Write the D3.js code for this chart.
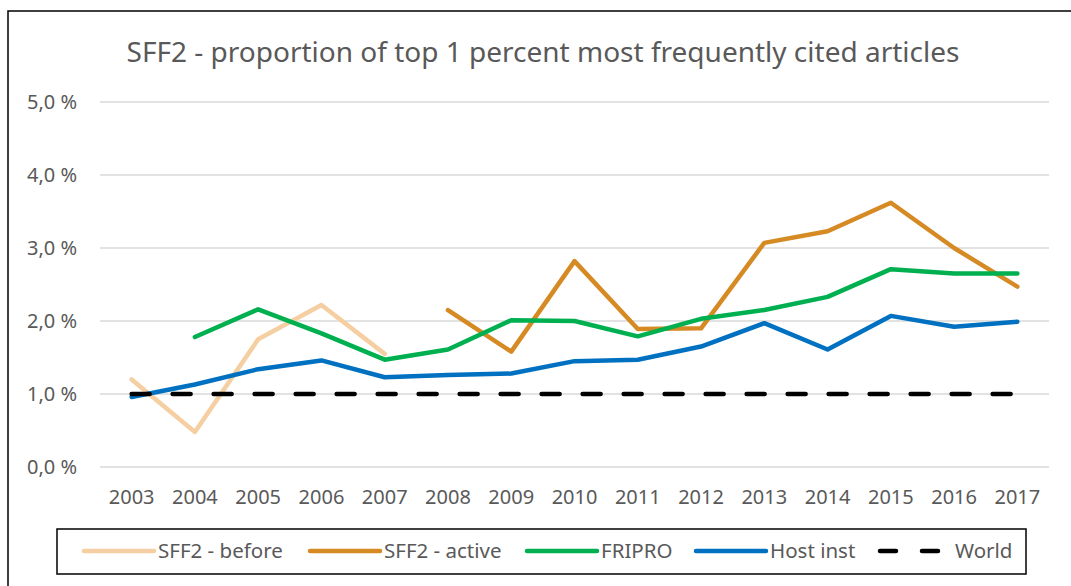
<!DOCTYPE html>
<html>
<head>
<meta charset="utf-8">
<script src="https://cdn.jsdelivr.net/npm/d3@7"></script>
<style>
  body { margin: 0; background: #fff; }
  svg { display: block; font-family: "Noto Sans", sans-serif; }
</style>
</head>
<body>
<svg id="chart" width="1071" height="586"></svg>
<script>
var years = ["2003","2004","2005","2006","2007","2008","2009","2010","2011","2012","2013","2014","2015","2016","2017"];
var sffBefore = [1.20, 0.48, 1.75, 2.22, 1.55, null, null, null, null, null, null, null, null, null, null];
var sffActive = [null, null, null, null, null, 2.15, 1.58, 2.82, 1.89, 1.90, 3.07, 3.23, 3.62, 3.00, 2.47];
var fripro    = [null, 1.78, 2.16, 1.83, 1.47, 1.61, 2.01, 2.00, 1.79, 2.03, 2.15, 2.33, 2.71, 2.65, 2.65];
var hostInst  = [0.96, 1.13, 1.34, 1.46, 1.23, 1.26, 1.28, 1.45, 1.47, 1.65, 1.97, 1.61, 2.07, 1.92, 1.99];
var world     = [1, 1, 1, 1, 1, 1, 1, 1, 1, 1, 1, 1, 1, 1, 1];
var yTicks = [0, 1, 2, 3, 4, 5];

var series = [
  {name: "SFF2 - before", values: sffBefore, color: "#F5CFA2", dash: null},
  {name: "SFF2 - active", values: sffActive, color: "#D68A24", dash: null},
  {name: "FRIPRO", values: fripro, color: "#00B050", dash: null},
  {name: "Host inst", values: hostInst, color: "#0070C0", dash: null},
  {name: "World", values: world, color: "#000000", dash: "18,23"}
];

var svg = d3.select("#chart");
var x = d3.scaleBand().domain(years).range([100, 1049]);
var y = d3.scaleLinear().domain([0, 5]).range([467, 102]);

// outer chart frame (runs off the right and bottom edge)
svg.append("rect")
  .attr("x", 8).attr("y", 11)
  .attr("width", 1120).attr("height", 640)
  .attr("fill", "none").attr("stroke", "#000").attr("stroke-width", 1.5);

svg.append("text")
  .attr("x", 543).attr("y", 62)
  .attr("text-anchor", "middle")
  .attr("font-size", 28)
  .attr("fill", "#595959")
  .text("SFF2 - proportion of top 1 percent most frequently cited articles");

// gridlines
svg.append("g").selectAll("line").data(yTicks).join("line")
  .attr("x1", 100).attr("x2", 1049)
  .attr("y1", d => y(d)).attr("y2", d => y(d))
  .attr("stroke", "#D9D9D9").attr("stroke-width", 1.5);

var yAxis = svg.append("g")
  .attr("transform", "translate(77,0)")
  .call(d3.axisLeft(y).tickValues(yTicks).tickSize(0).tickPadding(0)
    .tickFormat(d => d3.format(".1f")(d).replace(".", ",") + " %"));
yAxis.select(".domain").remove();
yAxis.selectAll("text").attr("font-size", 20).attr("fill", "#595959")
  .attr("font-family", "Noto Sans, sans-serif");

var xAxis = svg.append("g")
  .attr("transform", "translate(0,490)")
  .call(d3.axisBottom(x).tickSize(0).tickPadding(0));
xAxis.select(".domain").remove();
xAxis.selectAll("text").attr("font-size", 20).attr("fill", "#595959")
  .attr("font-family", "Noto Sans, sans-serif");

var line = d3.line()
  .defined(d => d.v != null)
  .x(d => x(d.year) + x.bandwidth() / 2)
  .y(d => y(d.v));

svg.append("g").selectAll("path").data(series).join("path")
  .attr("d", s => line(s.values.map((v, i) => ({year: years[i], v: v}))))
  .attr("fill", "none")
  .attr("stroke", s => s.color)
  .attr("stroke-width", 4.5)
  .attr("stroke-linejoin", "round")
  .attr("stroke-linecap", "round")
  .attr("stroke-dasharray", s => s.dash);

// legend
var legend = svg.append("g");
legend.append("rect")
  .attr("x", 57).attr("y", 529).attr("width", 969).attr("height", 45)
  .attr("fill", "#fff").attr("stroke", "#000").attr("stroke-width", 1.5);

var legendX = [84, 310, 527, 696, 880];
var item = legend.selectAll("g.item").data(series).join("g")
  .attr("class", "item")
  .attr("transform", (s, i) => "translate(" + legendX[i] + ",551)");
item.append("line")
  .attr("x1", 0).attr("x2", s => s.dash ? 62 : 70)
  .attr("stroke", s => s.color)
  .attr("stroke-width", 4.5)
  .attr("stroke-linecap", "round")
  .attr("stroke-dasharray", s => s.dash ? "16,26" : null);
item.append("text")
  .attr("x", s => s.dash ? 75 : 74)
  .attr("dy", "0.35em")
  .attr("font-size", 20.5)
  .attr("fill", "#595959")
  .text(s => s.name);
</script>
</body>
</html>
